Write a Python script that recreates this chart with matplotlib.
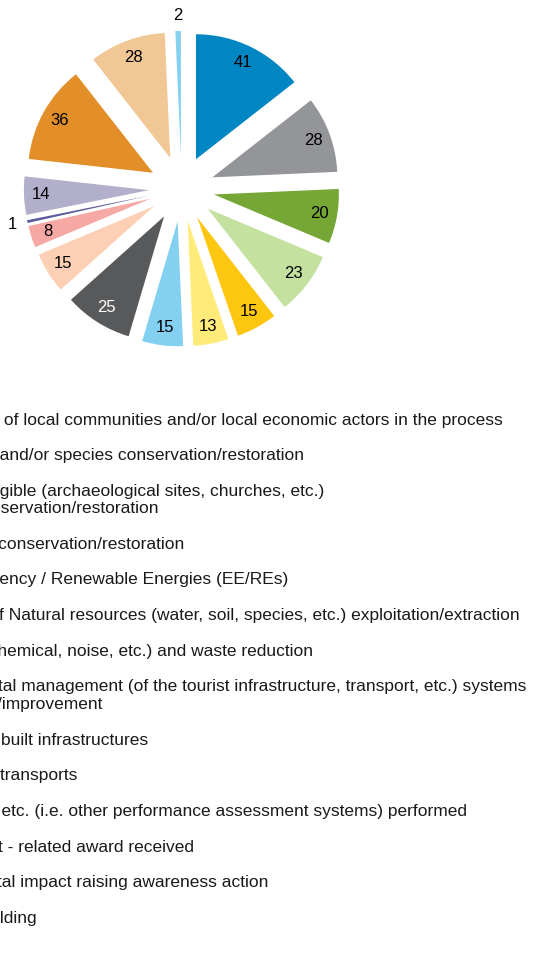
import matplotlib
matplotlib.use('Agg')
import numpy as np
from matplotlib import pyplot as plt

# slice values, clockwise from 12 o'clock
values = [41, 28, 20, 23, 15, 13, 15, 25, 15, 8, 1, 14, 36, 28, 2]
colors = ['#0086c3', '#939598', '#76a636', '#c5e1a0', '#fdc60f', '#ffeb7a',
          '#83d0f0', '#58595b', '#fdd0b5', '#f6a8a5', '#5b5a9e', '#b1afc9',
          '#e28f2a', '#f0c795', '#83d0f0']
value_colors = ['black'] * 7 + ['white'] + ['black'] * 7

legend_labels = [
    "Involvement of local communities and/or local economic actors in the process",
    "Habitats and/or species conservation/restoration",
    "Cultural heritage tangible (archaeological sites, churches, etc.)\nand intangible conservation/restoration",
    "Landscape conservation/restoration",
    "Energy efficiency / Renewable Energies (EE/REs)",
    "Reduction of Natural resources (water, soil, species, etc.) exploitation/extraction",
    "Pollution (air, chemical, noise, etc.) and waste reduction",
    "Environmental management (of the tourist infrastructure, transport, etc.) systems\nimplementation/improvement",
    "Sustainable built infrastructures",
    "Sustainable transports",
    "Certification, etc. (i.e. other performance assessment systems) performed",
    "Environment - related award received",
    "Environmental impact raising awareness action",
    "Capacity building",
]

W, H = 537, 960
FONT = 'Liberation Sans'
FS = 12.5

fig = plt.figure(figsize=(W / 100, H / 100), dpi=100)
ax = fig.add_axes([0, 0, 1, 1])

wedges, _ = ax.pie(values, colors=colors, startangle=90, counterclock=False,
                   explode=[0.262] * len(values), radius=1.0,
                   wedgeprops=dict(linewidth=0))

# pie centre in px from the top-left corner, radius in px (the chart is cropped on the left)
cx, cy, r = 181.6, 188.7, 125
ax.set_xlim(-cx / r, (W - cx) / r)
ax.set_ylim(-(H - cy) / r, cy / r)
ax.set_aspect('auto')
ax.axis('off')

# value labels
for w, v, tc in zip(wedges, values, value_colors):
    ang = np.deg2rad((w.theta1 + w.theta2) / 2)
    d = 0.86 if v >= 5 else 1.12
    x0, y0 = w.center
    ax.text(x0 + d * np.cos(ang), y0 + d * np.sin(ang), str(v),
            ha='center', va='center', color=tc, fontsize=12, family=FONT)

# legend text (its left part is cut off in the original picture)
first_line_y = [425, 460, 496, 549, 584, 620, 656, 691, 745, 780, 816, 852, 887, 923]
visible_from = [["of local"], ["and/or"], ["gible", "servation"], ["conservation"],
                ["ency"], ["f Natural"], ["hemical"], ["tal management", "/improvement"],
                ["built"], ["transports"], ["etc. (i.e."], ["t - related"],
                ["tal impact"], ["lding"]]
visible_x = [[4], [0], [-0.5, 1], [-2], [-1], [-1], [-3], [-2, -2],
             [0.7], [0], [1], [-2], [-2.5], [0]]
line_gap = 17.5

fig.canvas.draw()
renderer = fig.canvas.get_renderer()


def text_width(s):
    t = fig.text(0, 0, s, fontsize=FS, family=FONT)
    w = t.get_window_extent(renderer).width
    t.remove()
    return w


for label, yb, starts, xs in zip(legend_labels, first_line_y, visible_from, visible_x):
    for k, line in enumerate(label.split('\n')):
        suffix = line[line.find(starts[k]):]
        shift = text_width(line) - text_width(suffix)
        fig.text((xs[k] - shift) / W, 1 - (yb + k * line_gap) / H, line,
                 ha='left', va='baseline', fontsize=FS, family=FONT, color='#1a1a1a')

fig.savefig('out.png', dpi=100)
